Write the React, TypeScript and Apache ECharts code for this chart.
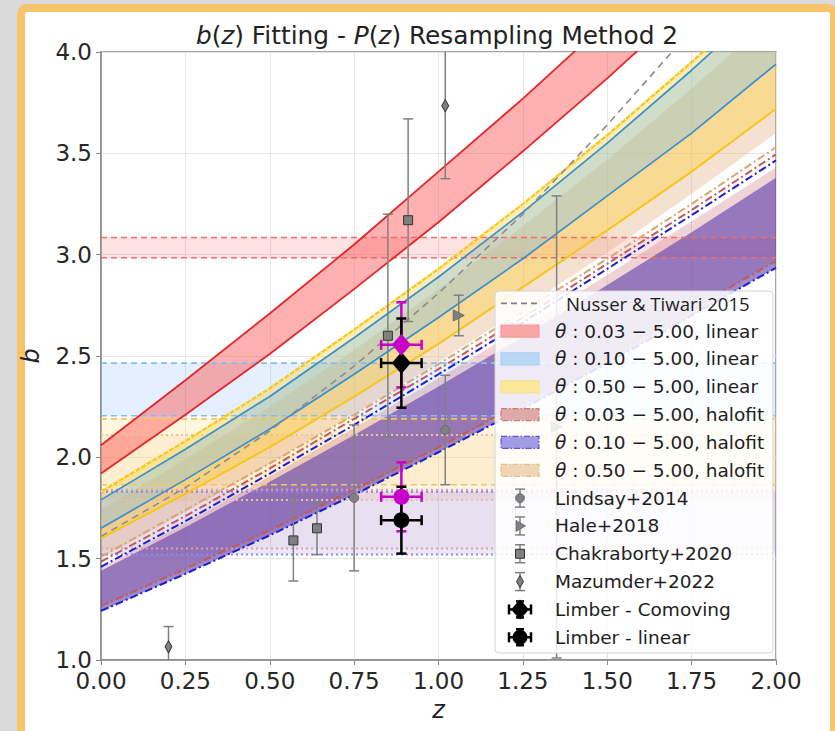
import React, { useEffect, useRef } from 'react';
import * as echarts from 'echarts';

// ---------- data ----------
const zGrid = [0, 0.25, 0.5, 0.75, 1.0, 1.25, 1.5, 1.75, 2.0];
const zSpan = [0, 2];

// linear fits (solid edges)
const redUpper = [2.06, 2.38, 2.71, 3.05, 3.41, 3.77, 4.15, 4.53, 4.93];
const redLower = [1.92, 2.21, 2.51, 2.83, 3.16, 3.51, 3.87, 4.25, 4.64];
const blueUpper = [1.79, 2.04, 2.3, 2.59, 2.89, 3.21, 3.55, 3.91, 4.29];
const blueLower = [1.65, 1.89, 2.14, 2.41, 2.69, 2.98, 3.29, 3.6, 3.94];
const yellowUpper = [1.83, 2.08, 2.34, 2.63, 2.93, 3.25, 3.59, 3.95, 4.33];
const yellowLower = [1.6, 1.82, 2.05, 2.3, 2.56, 2.84, 3.12, 3.41, 3.72];
const nusser = [1.61, 1.85, 2.13, 2.45, 2.81, 3.2, 3.64, 4.11, 4.62];

// halofit fits
const tanFillUpper = [1.74, 1.99, 2.25, 2.53, 2.83, 3.14, 3.47, 3.82, 4.19];
const tanFillLower = [1.5, 1.73, 1.97, 2.215, 2.47, 2.735, 3.01, 3.3, 3.6];
const tanHalofitUpper = [1.51, 1.74, 1.97, 2.21, 2.46, 2.72, 2.98, 3.25, 3.53];
const brownHalofitUpper = [1.485, 1.71, 1.945, 2.19, 2.435, 2.69, 2.955, 3.22, 3.495];
const blueHalofitUpper = [1.46, 1.685, 1.92, 2.16, 2.41, 2.665, 2.93, 3.195, 3.465];
const brownHalofitLower = [1.267, 1.45, 1.64, 1.84, 2.05, 2.27, 2.49, 2.73, 2.97];
const blueHalofitLower = [1.242, 1.425, 1.615, 1.815, 2.025, 2.24, 2.465, 2.7, 2.935];
const purpleFillUpper = [1.44, 1.655, 1.88, 2.11, 2.35, 2.595, 2.85, 3.11, 3.38];
const pinkFillUpper = [1.455, 1.675, 1.905, 2.145, 2.39, 2.64, 2.9, 3.165, 3.43];

// constant-bias bands [lower, upper]
const hRed = [2.985, 3.085];
const hBlue = [2.205, 2.465];
const hYellow = [1.865, 2.19];
const hTan = [1.79, 2.11];
const hRosy = [1.55, 1.84];
const hPurple = [1.52, 1.83];

// observations: z, b, errLow, errHigh
const lindsayZ = [0.75, 1.02];
const lindsayB = [1.8, 2.135];
const lindsayErr = [0.36, 0.27];
const haleZ = [1.06, 1.35];
const haleB = [2.7, 2.15];
const haleErr = [0.1, 1.14];
const chakZ = [0.57, 0.64, 0.85, 0.91];
const chakB = [1.59, 1.65, 2.6, 3.17];
const chakLo = [0.2, 0.13, 0.5, 0.5];
const chakHi = [0.2, 0.13, 0.6, 0.5];
const mazZ = [0.2, 1.02];
const mazB = [1.065, 3.735];
const mazErr = [0.1, 0.36];

// Limber points (index 0 = magenta, 1 = black)
const limberZ = [0.89, 0.89];
const limberXErr = [0.06, 0.06];
const limberColors = ['#c800c8', '#000000'];
const comovingB = [2.555, 2.465];
const comovingErr = [0.21, 0.22];
const linearB = [1.805, 1.69];
const linearErr = [0.17, 0.165];

const legendLabels = [
  'Nusser & Tiwari 2015',
  '{i|θ} : 0.03 − 5.00, linear',
  '{i|θ} : 0.10 − 5.00, linear',
  '{i|θ} : 0.50 − 5.00, linear',
  '{i|θ} : 0.03 − 5.00, halofit',
  '{i|θ} : 0.10 − 5.00, halofit',
  '{i|θ} : 0.50 − 5.00, halofit',
  'Lindsay+2014',
  'Hale+2018',
  'Chakraborty+2020',
  'Mazumder+2022',
  'Limber - Comoving',
  'Limber - linear',
];

// ---------- helpers ----------
const FONT = "'DejaVu Sans', sans-serif";
const GREY = '#808080';

function clipPoly(pts: number[][], x0: number, y0: number, x1: number, y1: number) {
  let out = pts;
  const clipEdge = (inside: (p: number[]) => boolean, inter: (a: number[], b: number[]) => number[]) => {
    const res: number[][] = [];
    for (let i = 0; i < out.length; i++) {
      const cur = out[i];
      const prev = out[(i + out.length - 1) % out.length];
      const ci = inside(cur);
      const pi = inside(prev);
      if (ci) {
        if (!pi) res.push(inter(prev, cur));
        res.push(cur);
      } else if (pi) res.push(inter(prev, cur));
    }
    out = res;
  };
  const iy = (yv: number) => (a: number[], b: number[]) => {
    const t = (yv - a[1]) / (b[1] - a[1]);
    return [a[0] + t * (b[0] - a[0]), yv];
  };
  const ix = (xv: number) => (a: number[], b: number[]) => {
    const t = (xv - a[0]) / (b[0] - a[0]);
    return [xv, a[1] + t * (b[1] - a[1])];
  };
  clipEdge((p) => p[1] >= y0, iy(y0));
  if (out.length) clipEdge((p) => p[1] <= y1, iy(y1));
  if (out.length) clipEdge((p) => p[0] >= x0, ix(x0));
  if (out.length) clipEdge((p) => p[0] <= x1, ix(x1));
  return out;
}

function band(xs: number[], upper: number[], lower: number[], fill: string) {
  return {
    type: 'custom',
    silent: true,
    z: 1,
    data: [[1, 2]],
    renderItem: (params: any, api: any) => {
      const pts: number[][] = [];
      for (let i = 0; i < xs.length; i++) pts.push(api.coord([xs[i], upper[i]]));
      for (let i = xs.length - 1; i >= 0; i--) pts.push(api.coord([xs[i], lower[i]]));
      const cs = params.coordSys;
      const c = clipPoly(pts, cs.x, cs.y, cs.x + cs.width, cs.y + cs.height);
      return { type: 'polygon', shape: { points: c }, style: { fill } };
    },
  };
}

function hBand(v: number[], fill: string) {
  return band(zSpan, [v[1], v[1]], [v[0], v[0]], fill);
}

function line(xs: number[], ys: number[], color: string, width: number, type: any) {
  return {
    type: 'line',
    silent: true,
    z: 2,
    showSymbol: false,
    symbol: 'none',
    data: xs.map((x, i) => [x, ys[i]]),
    lineStyle: { color, width, type },
  };
}

function hLine(v: number, color: string, width: number, type: any) {
  return line(zSpan, [v, v], color, width, type);
}

function errBars(rows: number[][], color: string, width: number, cap: number, zz: number) {
  return {
    type: 'custom',
    silent: true,
    z: zz,
    dimensions: ['z', 'b', 'lo', 'hi', 'xe'],
    encode: { x: 0, y: 1 },
    data: rows,
    renderItem: (params: any, api: any) => {
      const z = api.value(0);
      const b = api.value(1);
      const lo = api.value(2);
      const hi = api.value(3);
      const xe = api.value(4);
      const st = { stroke: color, lineWidth: width };
      const top = Math.min(b + hi, 4);
      const bot = Math.max(b - lo, 1);
      const pt = api.coord([z, top]);
      const pb = api.coord([z, bot]);
      const ch: any[] = [{ type: 'line', shape: { x1: pt[0], y1: pt[1], x2: pb[0], y2: pb[1] }, style: st }];
      if (b + hi <= 4) ch.push({ type: 'line', shape: { x1: pt[0] - cap, y1: pt[1], x2: pt[0] + cap, y2: pt[1] }, style: st });
      if (b - lo >= 1) ch.push({ type: 'line', shape: { x1: pb[0] - cap, y1: pb[1], x2: pb[0] + cap, y2: pb[1] }, style: st });
      if (xe > 0) {
        const pl = api.coord([z - xe, b]);
        const pr = api.coord([z + xe, b]);
        ch.push({ type: 'line', shape: { x1: pl[0], y1: pl[1], x2: pr[0], y2: pr[1] }, style: st });
        ch.push({ type: 'line', shape: { x1: pl[0], y1: pl[1] - cap, x2: pl[0], y2: pl[1] + cap }, style: st });
        ch.push({ type: 'line', shape: { x1: pr[0], y1: pr[1] - cap, x2: pr[0], y2: pr[1] + cap }, style: st });
      }
      return { type: 'group', children: ch };
    },
  };
}

function scatter(zs: number[], bs: number[], symbol: string, size: any, fill: string, border: string, zz: number, extra: any = {}) {
  return {
    type: 'scatter',
    silent: true,
    z: zz,
    data: zs.map((z, i) => [z, bs[i]]),
    symbol,
    symbolSize: size,
    itemStyle: { color: fill, borderColor: border, borderWidth: border === 'none' ? 0 : 1, opacity: 1 },
    ...extra,
  };
}

// ---------- legend (graphic) ----------
function buildLegend() {
  const els: any[] = [];
  const Z = 100;
  const top = 303.3;
  const step = 27.83;
  els.push({
    type: 'rect', z: Z, shape: { x: 495, y: 291, width: 278, height: 362, r: 4 },
    style: { fill: 'rgba(255,255,255,0.86)', stroke: '#d4d4d4', lineWidth: 1 },
  });
  const cx = 520;
  const rowY = (i: number) => top + i * step;
  els.push({ type: 'line', z: Z, shape: { x1: 501, y1: rowY(0), x2: 540, y2: rowY(0) }, style: { stroke: GREY, lineWidth: 1.8, lineDash: [6, 4] } });
  const patch = (i: number, fill: string, stroke: string, dash: any) => {
    els.push({
      type: 'rect', z: Z, shape: { x: 501, y: rowY(i) - 6, width: 38, height: 12 },
      style: { fill, stroke, lineWidth: 1.2, lineDash: dash },
    });
  };
  patch(1, '#f8a6a6', '#f49a9a', null);
  patch(2, '#b9d8f6', '#a9cff3', null);
  patch(3, '#fde79b', '#fbe08a', null);
  patch(4, '#dfa9a9', '#c97a7a', [6, 2, 1.5, 2]);
  patch(5, '#a19ce4', '#5b55d6', [6, 2, 1.5, 2]);
  patch(6, '#f0d5b7', '#e4bd93', [6, 2, 1.5, 2]);
  const errIcon = (i: number, col: string, w: number, half: number, capw: number, xcap: number) => {
    const y = rowY(i);
    const st = { stroke: col, lineWidth: w };
    els.push({ type: 'line', z: Z, shape: { x1: cx, y1: y - half, x2: cx, y2: y + half }, style: st });
    els.push({ type: 'line', z: Z, shape: { x1: cx - capw, y1: y - half, x2: cx + capw, y2: y - half }, style: st });
    els.push({ type: 'line', z: Z, shape: { x1: cx - capw, y1: y + half, x2: cx + capw, y2: y + half }, style: st });
    if (xcap > 0) {
      els.push({ type: 'line', z: Z, shape: { x1: cx - xcap, y1: y, x2: cx + xcap, y2: y }, style: st });
      els.push({ type: 'line', z: Z, shape: { x1: cx - xcap, y1: y - 5, x2: cx - xcap, y2: y + 5 }, style: st });
      els.push({ type: 'line', z: Z, shape: { x1: cx + xcap, y1: y - 5, x2: cx + xcap, y2: y + 5 }, style: st });
    }
  };
  errIcon(7, GREY, 1.5, 9, 5, 0);
  els.push({ type: 'circle', z: Z + 1, shape: { cx, cy: rowY(7), r: 4.5 }, style: { fill: GREY, stroke: '#666', lineWidth: 0.8 } });
  errIcon(8, GREY, 1.5, 9, 5, 0);
  els.push({ type: 'polygon', z: Z + 1, shape: { points: [[cx - 4, rowY(8) - 5.5], [cx + 5.5, rowY(8)], [cx - 4, rowY(8) + 5.5]] }, style: { fill: GREY, stroke: '#666', lineWidth: 0.8 } });
  errIcon(9, GREY, 1.5, 9, 5, 0);
  els.push({ type: 'rect', z: Z + 1, shape: { x: cx - 4.5, y: rowY(9) - 4.5, width: 9, height: 9 }, style: { fill: GREY, stroke: '#333', lineWidth: 1 } });
  errIcon(10, GREY, 1.5, 9, 5, 0);
  els.push({ type: 'polygon', z: Z + 1, shape: { points: [[cx, rowY(10) - 6], [cx + 3.5, rowY(10)], [cx, rowY(10) + 6], [cx - 3.5, rowY(10)]] }, style: { fill: GREY, stroke: '#333', lineWidth: 1 } });
  errIcon(11, '#000', 2.5, 8, 4, 11);
  els.push({ type: 'polygon', z: Z + 1, shape: { points: [[cx, rowY(11) - 10], [cx + 9, rowY(11)], [cx, rowY(11) + 10], [cx - 9, rowY(11)]] }, style: { fill: '#000' } });
  errIcon(12, '#000', 2.5, 8, 4, 11);
  els.push({ type: 'circle', z: Z + 1, shape: { cx, cy: rowY(12), r: 7.5 }, style: { fill: '#000' } });
  legendLabels.forEach((t, i) => {
    const first = i === 0;
    els.push({
      type: 'text', z: Z + 2,
      style: {
        text: t,
        x: first ? 566 : 555,
        y: rowY(i),
        fontSize: first ? 18.6 : 18.5,
        fontFamily: first ? "'Open Sans', sans-serif" : FONT,
        fill: '#1e1e1e',
        align: 'left',
        verticalAlign: 'middle',
        textAlign: 'left',
        textVerticalAlign: 'middle',
        rich: { i: { fontStyle: 'italic', fontSize: 18.5, fontFamily: FONT, fill: '#1e1e1e' } },
      },
    });
  });
  return els;
}

export default function App() {
  const ref = useRef<HTMLDivElement>(null);
  useEffect(() => {
    if (!ref.current) return;
    const chart = echarts.init(ref.current, undefined, { renderer: 'svg' });
    const DASHDOT = [8, 3, 2, 3];
    const limberRows = (bs: number[], errs: number[], i: number) => [[limberZ[i], bs[i], errs[i], errs[i], limberXErr[i]]];
    const series: any[] = [
      // constant-bias fills
      hBand(hBlue, 'rgba(130,185,245,0.22)'),
      hBand(hYellow, 'rgba(255,220,90,0.2)'),
      hBand(hTan, 'rgba(240,200,150,0.2)'),
      hBand(hRosy, 'rgba(220,150,160,0.1)'),
      hBand(hPurple, 'rgba(150,130,220,0.18)'),
      hBand(hRed, 'rgba(245,110,110,0.2)'),
      // diagonal fills
      band(zGrid, pinkFillUpper, brownHalofitLower, 'rgba(210,130,140,0.35)'),
      band(zGrid, purpleFillUpper, blueHalofitLower, 'rgba(90,60,170,0.6)'),
      band(zGrid, tanFillUpper, tanFillLower, 'rgba(225,170,120,0.35)'),
      band(zGrid, yellowUpper, yellowLower, 'rgba(255,205,40,0.35)'),
      band(zGrid, blueUpper, blueLower, 'rgba(120,190,240,0.35)'),
      band(zGrid, redUpper, redLower, 'rgba(255,80,80,0.45)'),
      // constant-bias lines
      hLine(hRed[0], '#f06b6b', 1.6, [6, 4]),
      hLine(hRed[1], '#f06b6b', 1.6, [6, 4]),
      hLine(hBlue[0], '#86bdf0', 1.6, [6, 4]),
      hLine(hBlue[1], '#86bdf0', 1.6, [6, 4]),
      hLine(hYellow[0], '#f2c65e', 1.6, [6, 4]),
      hLine(hYellow[1], '#f2c65e', 1.6, [6, 4]),
      hLine(hTan[0], '#e8c39a', 2, [2, 3]),
      hLine(hTan[1], '#e8c39a', 2, [2, 3]),
      hLine(hRosy[0], '#e0a0a6', 2, [2, 3]),
      hLine(hRosy[1], '#e0a0a6', 2, [2, 3]),
      hLine(hPurple[0], '#8f86e8', 2, [2, 3]),
      hLine(hPurple[1], '#8f86e8', 2, [2, 3]),
      // halofit dash-dot lines
      line(zGrid, tanHalofitUpper, '#d9a56e', 2, DASHDOT),
      line(zGrid, brownHalofitUpper, '#c25a5a', 2, DASHDOT),
      line(zGrid, blueHalofitUpper, '#1c1cd0', 2, DASHDOT),
      line(zGrid, brownHalofitLower, '#c25a5a', 2, DASHDOT),
      line(zGrid, blueHalofitLower, '#1c1cd0', 2, DASHDOT),
      // linear solid lines
      line(zGrid, yellowLower, '#f7c61a', 2, 'solid'),
      line(zGrid, yellowUpper, '#f7c61a', 2.2, 'solid'),
      line(zGrid, yellowUpper, '#ffffff', 1.2, [1.5, 5]),
      line(zGrid, blueLower, '#3b8ed0', 1.7, 'solid'),
      line(zGrid, blueUpper, '#3b8ed0', 1.7, 'solid'),
      line(zGrid, redLower, '#e3262b', 1.8, 'solid'),
      line(zGrid, redUpper, '#e3262b', 1.8, 'solid'),
      line(zGrid, nusser, '#8c8c8c', 1.6, [7, 5]),
      // observations
      errBars(lindsayZ.map((z, i) => [z, lindsayB[i], lindsayErr[i], lindsayErr[i], 0]), GREY, 1.5, 5, 5),
      errBars(haleZ.map((z, i) => [z, haleB[i], haleErr[i], haleErr[i], 0]), GREY, 1.5, 5, 5),
      errBars(chakZ.map((z, i) => [z, chakB[i], chakLo[i], chakHi[i], 0]), GREY, 1.5, 5, 5),
      errBars(mazZ.map((z, i) => [z, mazB[i], mazErr[i], mazErr[i], 0]), GREY, 1.5, 5, 5),
      scatter(lindsayZ, lindsayB, 'circle', 9, GREY, '#6a6a6a', 6),
      scatter(haleZ, haleB, 'triangle', 11, GREY, '#6a6a6a', 6, { symbolRotate: -90 }),
      scatter(chakZ, chakB, 'rect', 9, GREY, '#333333', 6),
      scatter(mazZ, mazB, 'diamond', [7, 12], GREY, '#333333', 6),
      // Limber: error bars, then black markers, then magenta markers
      errBars(limberRows(comovingB, comovingErr, 0), limberColors[0], 2.5, 5, 7),
      errBars(limberRows(linearB, linearErr, 0), limberColors[0], 2.5, 5, 7),
      errBars(limberRows(comovingB, comovingErr, 1), limberColors[1], 2.5, 5, 8),
      errBars(limberRows(linearB, linearErr, 1), limberColors[1], 2.5, 5, 8),
      scatter([limberZ[1]], [comovingB[1]], 'diamond', [19, 22], limberColors[1], 'none', 9),
      scatter([limberZ[1]], [linearB[1]], 'circle', 16, limberColors[1], 'none', 9),
      scatter([limberZ[0]], [comovingB[0]], 'diamond', [19, 22], limberColors[0], 'none', 10),
      scatter([limberZ[0]], [linearB[0]], 'circle', 16, limberColors[0], 'none', 10),
    ];

    chart.setOption({
      animation: false,
      backgroundColor: 'transparent',
      textStyle: { fontFamily: FONT },
      grid: { left: 101, right: 59, top: 52, bottom: 71, show: true, borderColor: '#888', borderWidth: 1.5, containLabel: false },
      xAxis: {
        type: 'value', min: 0, max: 2, interval: 0.25,
        name: 'z', nameLocation: 'middle', nameGap: 38,
        nameTextStyle: { fontSize: 24, fontStyle: 'italic', color: '#222', fontFamily: FONT },
        axisLine: { show: true, lineStyle: { color: '#888', width: 1.5 } },
        axisTick: { show: true, length: 5, lineStyle: { color: '#888' } },
        axisLabel: { fontSize: 23, color: '#262626', margin: 9, formatter: (v: number) => v.toFixed(2), fontFamily: FONT },
        splitLine: { show: true, lineStyle: { color: '#e6e6e6', width: 1 } },
      },
      yAxis: {
        type: 'value', min: 1, max: 4, interval: 0.5,
        name: 'b', nameLocation: 'middle', nameGap: 58, nameRotate: 90,
        nameTextStyle: { fontSize: 24, fontStyle: 'italic', color: '#222', fontFamily: FONT },
        axisLine: { show: true, lineStyle: { color: '#888', width: 1.5 } },
        axisTick: { show: true, length: 5, lineStyle: { color: '#888' } },
        axisLabel: { fontSize: 23, color: '#262626', margin: 9, formatter: (v: number) => v.toFixed(1), fontFamily: FONT },
        splitLine: { show: true, lineStyle: { color: '#e6e6e6', width: 1 } },
      },
      graphic: [
        {
          type: 'text', z: 100,
          style: {
            text: '{i|b}({i|z}) Fitting - {i|P}({i|z}) Resampling Method 2',
            x: 437, y: 35,
            fontSize: 24.8, fontFamily: FONT, fill: '#222',
            align: 'center', verticalAlign: 'middle', textAlign: 'center', textVerticalAlign: 'middle',
            rich: { i: { fontStyle: 'italic', fontSize: 24.8, fontFamily: FONT, fill: '#222' } },
          },
        },
        ...buildLegend(),
      ],
      series,
    });
    return () => chart.dispose();
  }, []);

  return (
    <div style={{ position: 'fixed', left: 0, top: 0, width: 835, height: 731, background: '#dadada', overflow: 'hidden' }}>
      <div
        style={{
          position: 'absolute', left: 17, top: 4, width: 805, height: 740,
          border: '8px solid #f7c46c', borderRadius: 10, background: '#ffffff', boxSizing: 'content-box',
        }}
      />
      <div ref={ref} style={{ position: 'absolute', left: 0, top: 0, width: 835, height: 731 }} />
    </div>
  );
}
